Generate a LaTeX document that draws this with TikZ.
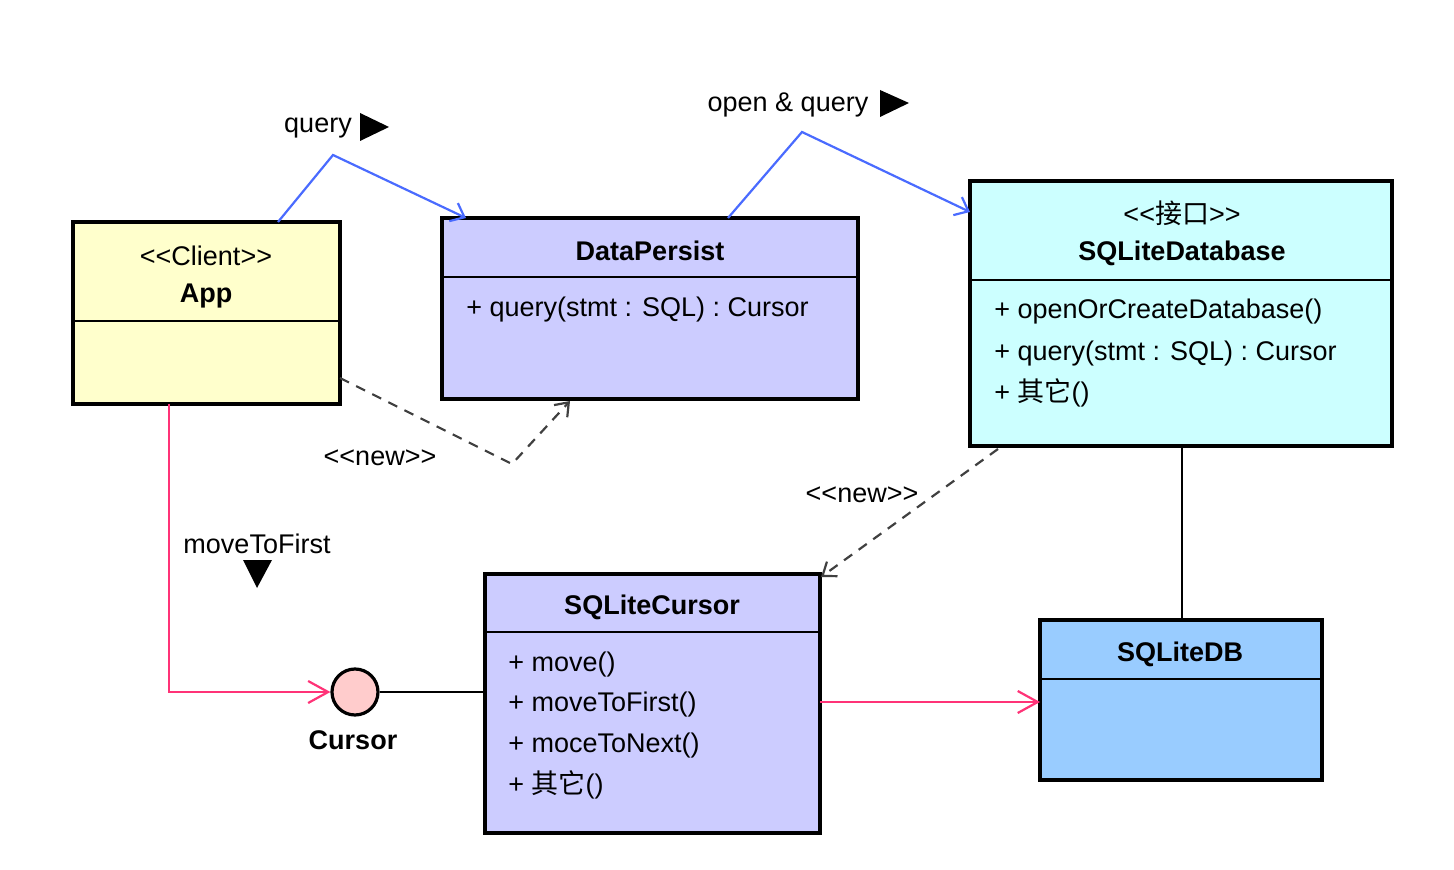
\documentclass[tikz,border=0pt]{standalone}
\usepackage{fontspec}
\setmainfont{Liberation Sans}
\newfontfamily\cjk{Noto Sans CJK SC}
\usetikzlibrary{arrows.meta,fit}
\definecolor{appfill}{HTML}{FFFFCC}
\definecolor{lilac}{HTML}{CCCCFF}
\definecolor{cyanfill}{HTML}{CCFFFF}
\definecolor{dbfill}{HTML}{99CCFF}
\definecolor{pinkfill}{HTML}{FFCCCC}
\definecolor{linkblue}{HTML}{4A6BFF}
\definecolor{linkpink}{HTML}{FF3377}
\newcommand{\lguil}{{<}{<}}
\newcommand{\rguil}{{>}{>}}
\tikzset{
  umlbox/.style={draw=black, line width=1.6pt, inner sep=0pt},
  divider/.style={draw=black, line width=0.8pt},
  txt/.style={font=\fontsize{13.5}{16}\selectfont, inner sep=0pt},
  title/.style={font=\fontsize{13.5}{16}\selectfont\bfseries, inner sep=0pt},
  member/.style={txt, anchor=west},
  bluelink/.style={draw=linkblue, line width=1.1pt, -{Straight Barb[length=6pt,width=10pt]}},
  pinklink/.style={draw=linkpink, line width=1.1pt, -{Straight Barb[length=10pt,width=11pt]}},
  newlink/.style={draw=black!75, line width=1.1pt, dash pattern=on 5pt off 4pt, -{Straight Barb[length=6pt,width=9pt]}},
  plainlink/.style={draw=black, line width=1pt},
  marker/.style={fill=black},
}
\begin{document}
\begin{tikzpicture}[x=0.5pt,y=-0.5pt]
\useasboundingbox (0,0) rectangle (1454,870);

% App
\node[umlbox, fill=appfill, fit={(73,222)(340,404)}] (app) {};
\draw[divider] (73,321) -- (340,321);
\node[txt] (appst) at (206,256) {\lguil Client\rguil};
\node[title] (appname) at (206,296) {App};

% DataPersist
\node[umlbox, fill=lilac, fit={(442,218)(858,399)}] (dp) {};
\draw[divider] (442,277) -- (858,277);
\node[title] (dpname) at (650,251) {DataPersist};
\node[member] (dpm1) at (466,310) {+ query(stmt : SQL) : Cursor};

% SQLiteDatabase
\node[umlbox, fill=cyanfill, fit={(970,181)(1392,446)}] (sdb) {};
\draw[divider] (970,280) -- (1392,280);
\node[txt] (sdbst) at (1182,213) {\lguil{\cjk 接口}\rguil};
\node[title] (sdbname) at (1182,253) {SQLiteDatabase};
\node[member] (sdbm1) at (994,312) {+ openOrCreateDatabase()};
\node[member] (sdbm2) at (994,354) {+ query(stmt : SQL) : Cursor};
\node[member] (sdbm3) at (994,393) {+ {\cjk 其它}()};

% SQLiteCursor
\node[umlbox, fill=lilac, fit={(485,574)(820,833)}] (sc) {};
\draw[divider] (485,632) -- (820,632);
\node[title] (scname) at (652,607) {SQLiteCursor};
\node[member] (scm1) at (508,665) {+ move()};
\node[member] (scm2) at (508,705) {+ moveToFirst()};
\node[member] (scm3) at (508,746) {+ moceToNext()};
\node[member] (scm4) at (508,785) {+ {\cjk 其它}()};

% SQLiteDB
\node[umlbox, fill=dbfill, fit={(1040,620)(1322,780)}] (db) {};
\draw[divider] (1040,679) -- (1322,679);
\node[title] (dbname) at (1180,654) {SQLiteDB};

% Cursor interface
\node[circle, draw=black, line width=1.6pt, fill=pinkfill, minimum size=23pt, inner sep=0pt] (cur) at (355,692) {};
\node[title] (curname) at (353,740) {Cursor};

% coordinates
\coordinate (q1) at (278,222);
\coordinate (q2) at (333,155);
\coordinate (q3) at (466,218);
\coordinate (o1) at (728,218);
\coordinate (o2) at (802,132);
\coordinate (o3) at (970,212);
\coordinate (n1) at (340,378);
\coordinate (n2) at (512,464);
\coordinate (n3) at (570,401);
\coordinate (m1) at (998,449);
\coordinate (m2) at (821,577);
\coordinate (p1) at (169,404);
\coordinate (p2) at (169,692);
\coordinate (s1) at (820,702);
\coordinate (s2) at (1040,702);

% connectors
\draw[bluelink] (q1) -- (q2) -- (q3);
\draw[bluelink] (o1) -- (o2) -- (o3);
\draw[newlink] (n1) -- (n2) -- (n3);
\draw[newlink] (m1) -- (m2);
\draw[plainlink] (sdb.south -| 1182,0) -- (db.north -| 1182,0);
\draw[pinklink] (p1) -- (p2) -- (cur.west);
\draw[plainlink] (cur.east) -- (sc.west |- cur.east);
\draw[pinklink] (s1) -- (s2);

% labels
\node[txt] (lq) at (318,128) {query};
\fill[marker] (360,113) -- (389,127) -- (360,141) -- cycle;
\node[txt] (lo) at (788,105) {open \& query};
\fill[marker] (880,90) -- (909,103) -- (880,117) -- cycle;
\node[txt] (ln1) at (380,458) {\lguil new\rguil};
\node[txt] (ln2) at (862,495) {\lguil new\rguil};
\node[txt] (lm) at (257,544) {moveToFirst};
\fill[marker] (243,560) -- (272,560) -- (257,588) -- cycle;
\end{tikzpicture}
\end{document}
